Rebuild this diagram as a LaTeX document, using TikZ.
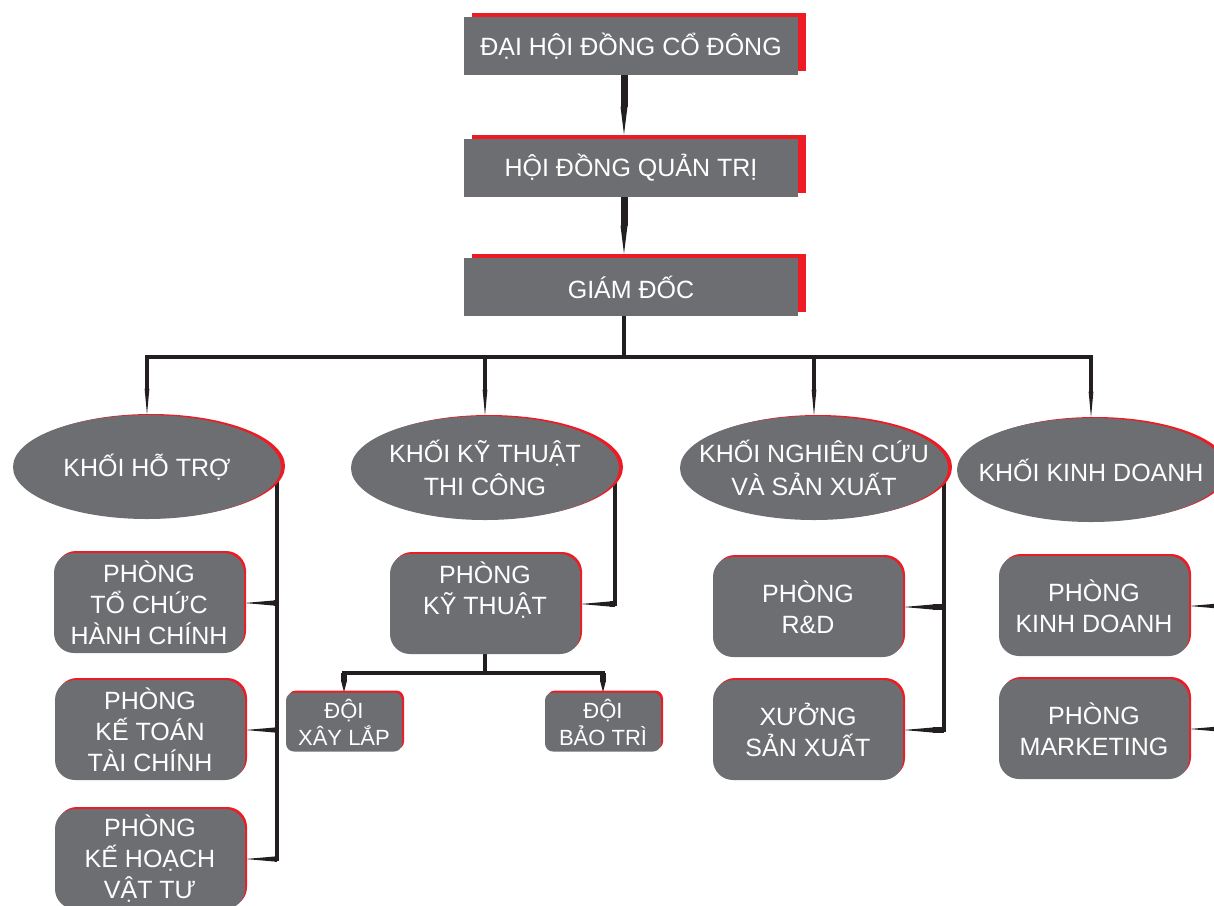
\documentclass[tikz,border=0pt]{standalone}
\usepackage{fontspec}
\setmainfont{Liberation Sans}
\usetikzlibrary{arrows.meta,shapes.geometric,backgrounds}
\definecolor{boxgray}{HTML}{6D6E71}
\definecolor{edgered}{HTML}{ED1C24}
\definecolor{ink}{HTML}{231F20}

\begin{document}
\begin{tikzpicture}[x=0.5pt,y=-0.5pt,font=\fontsize{12.5}{15.5}\selectfont,
  tier/.style={fill=boxgray,text=white,minimum width=167pt,minimum height=29pt,inner sep=0pt,
               preaction={fill=edgered,transform canvas={shift={(4pt,2pt)}}}},
  block/.style={ellipse,fill=boxgray,text=white,align=center,minimum width=134pt,
                minimum height=52pt,inner xsep=-15pt,inner ysep=0pt,
                font=\fontsize{12.5}{16.5}\selectfont,
                preaction={fill=edgered,transform canvas={shift={(2pt,0.5pt)}}}},
  dept/.style={rounded corners=10pt,fill=boxgray,text=white,align=center,minimum width=95pt,
               minimum height=50pt,inner sep=0pt,
               preaction={fill=edgered,transform canvas={shift={(1pt,1pt)}}}},
  team/.style={dept,rounded corners=4pt,minimum width=58pt,minimum height=29.5pt,
               font=\fontsize{11}{13.5}\selectfont},
  rail/.style={draw=ink,line width=2pt,line cap=rect},
  toplink/.style={draw=ink,line width=3.5pt,
                  -{Triangle[length=14pt,width=3.5pt,line width=0pt]}},
  downlink/.style={draw=ink,line width=2.4pt,
                   -{Triangle[length=13pt,width=2.4pt,line width=0pt]}},
  sidelink/.style={draw=ink,line width=2.6pt,
                   -{Triangle[length=15pt,width=2.6pt,line width=0pt]}},
  teamlink/.style={draw=ink,line width=2.6pt,
                   -{Triangle[length=5pt,width=2.6pt,line width=0pt]}}]

  \useasboundingbox (0,0) rectangle (1214,905);

  % board levels
  \node[tier] (dhcd) at (631,46) {ĐẠI HỘI ĐỒNG CỔ ĐÔNG};
  \node[tier] (hdqt) at (631,168) {HỘI ĐỒNG QUẢN TRỊ};
  \node[tier] (gd) at (631,287) {GIÁM ĐỐC};

  % divisions
  \node[block] (e1) at (147,467) {KHỐI HỖ TRỢ};
  \node[block] (e2) at (485,468) {KHỐI KỸ THUẬT\\THI CÔNG};
  \node[block] (e3) at (814,468) {KHỐI NGHIÊN CỨU\\VÀ SẢN XUẤT};
  \node[block] (e4) at (1091,470) {KHỐI KINH DOANH};

  % departments
  \node[dept] (tchc) at (149,603) {PHÒNG\\TỔ CHỨC\\HÀNH CHÍNH};
  \node[dept] (ktoan) at (150,730) {PHÒNG\\KẾ TOÁN\\TÀI CHÍNH};
  \node[dept] (khvt) at (150,859) {PHÒNG\\KẾ HOẠCH\\VẬT TƯ};
  \node[dept] (pkt) at (485,604) {PHÒNG\\KỸ THUẬT\\\mbox{}};
  \node[team] (xl) at (344,722) {ĐỘI\\XÂY LẮP};
  \node[team] (bt) at (603,722) {ĐỘI\\BẢO TRÌ};
  \node[dept] (rd) at (808,607) {PHÒNG\\R\&D};
  \node[dept] (xuong) at (808,730) {XƯỞNG\\SẢN XUẤT};
  \node[dept] (kd) at (1094,606) {PHÒNG\\KINH DOANH};
  \node[dept] (mkt) at (1094,729) {PHÒNG\\MARKETING};

  \begin{scope}[on background layer]
    \draw[toplink] ([xshift=-3.5pt]dhcd.south) -- ([xshift=-3.5pt,yshift=2pt]hdqt.north);
    \draw[toplink] ([xshift=-3.5pt]hdqt.south) -- ([xshift=-3.5pt,yshift=2pt]gd.north);

    \draw[rail] ([xshift=-3.5pt]gd.south) -- ++(0,41) coordinate (hub);
    \draw[rail] (e1.north |- hub) -- (e4.north |- hub);
    \foreach \e in {e1,e2,e3,e4}
      \draw[downlink] (\e.north |- hub) -- (\e.north);

    \foreach \e in {e1,e2,e3,e4}
      \coordinate (t\e) at ([xshift=-2pt]\e.east);

    \draw[rail] (te1) -- (te1 |- khvt.east);
    \foreach \d in {tchc,ktoan,khvt}
      \draw[sidelink] (te1 |- \d.east) -- (\d.east);

    \draw[rail] (te2) -- (te2 |- pkt.east);
    \draw[sidelink] (te2 |- pkt.east) -- (pkt.east);
    \draw[rail] (pkt.south) -- ++(0,19) coordinate (sub);
    \draw[rail] (xl.north |- sub) -- (bt.north |- sub);
    \draw[teamlink] (xl.north |- sub) -- (xl.north);
    \draw[teamlink] (bt.north |- sub) -- (bt.north);

    \draw[rail] (te3) -- (te3 |- xuong.east);
    \foreach \d in {rd,xuong}
      \draw[sidelink] (te3 |- \d.east) -- (\d.east);

    \draw[rail] (te4) -- (te4 |- mkt.east);
    \foreach \d in {kd,mkt}
      \draw[sidelink] (te4 |- \d.east) -- (\d.east);
  \end{scope}
\end{tikzpicture}
\end{document}
